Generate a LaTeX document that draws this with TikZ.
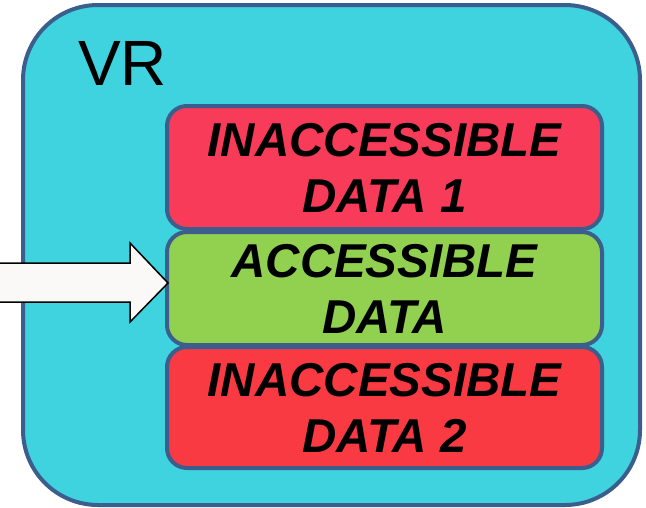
\documentclass[tikz,border=0pt]{standalone}
\usepackage{fontspec}
\setmainfont{Liberation Sans}
\usetikzlibrary{calc}
\definecolor{outerfill}{HTML}{3FD2DF}
\definecolor{edgeblue}{HTML}{3B5E8C}
\definecolor{redone}{HTML}{F73B58}
\definecolor{redtwo}{HTML}{F93A42}
\definecolor{greenbox}{HTML}{92D050}
\definecolor{arrowfill}{HTML}{FAF9F8}
\tikzset{
  outerbox/.style={draw=edgeblue, line width=4pt, fill=outerfill, rounded corners=75pt, inner sep=0pt},
  databox/.style={draw=edgeblue, line width=4pt, rounded corners=20pt, inner sep=0pt,
    minimum width=435pt, align=center,
    font=\fontsize{47.5}{56}\selectfont\bfseries\itshape},
  arrowbody/.style={draw=black, line width=1.5pt, fill=arrowfill, line join=miter},
  arrowshadow/.style={fill=black, opacity=0.25},
  vrlabel/.style={font=\fontsize{64}{64}\selectfont, inner sep=0pt, anchor=base west}
}
\begin{document}
\begin{tikzpicture}[x=1pt,y=-1pt]
\useasboundingbox (0,0) rectangle (646,507);
\clip (0,0) rectangle (646,507);
\node[outerbox, minimum width=617pt, minimum height=500pt] (outer) at (331.5,255) {};
\node[vrlabel] (vr) at (78,85) {VR};
\node[databox, fill=redone, minimum height=123pt] (d1) at (384.5,167.5) {INACCESSIBLE\\DATA 1};
\node[databox, fill=greenbox, minimum height=113pt] (d2) at (384.5,288.5) {ACCESSIBLE\\DATA};
\node[databox, fill=redtwo, minimum height=121pt] (d3) at (384.5,407.5) {INACCESSIBLE\\DATA 2};
\coordinate (tip) at ($(d2.west)+(3,-5.5)$);
\begin{scope}[shift={(4,5)}]
\fill[arrowshadow] (tip) -- ++(-38,-40) -- ++(0,20) -- ++(-145,0) -- ++(0,39) -- ++(145,0) -- ++(0,20) -- cycle;
\end{scope}
\draw[arrowbody] (tip) -- ++(-38,-40) -- ++(0,20) -- ++(-145,0) -- ++(0,39) -- ++(145,0) -- ++(0,20) -- cycle;
\end{tikzpicture}
\end{document}
